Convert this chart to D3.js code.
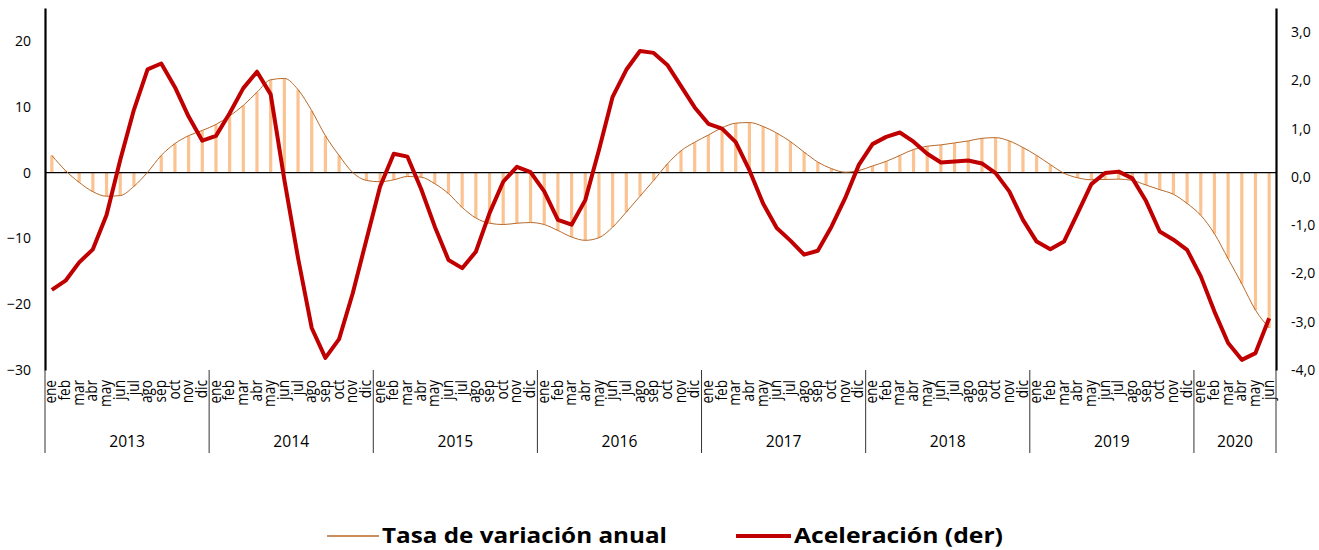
<!DOCTYPE html>
<html><head><meta charset="utf-8">
<script src="https://cdn.jsdelivr.net/npm/d3@7"></script>
<style>
html,body{margin:0;padding:0;background:#fff;}
svg text{font-family:"Open Sans",Lato,sans-serif;fill:#000;}
</style></head>
<body><svg id="c" width="1319" height="550"></svg>
<script>
const years = ["2013","2014","2015","2016","2017","2018","2019","2020"];
const monthNames = ["ene","feb","mar","abr","may","jun","jul","ago","sep","oct","nov","dic"];
const monthsPerYear = [12,12,12,12,12,12,12,6];

const tasa = [
  2.6, 0.3, -1.5, -2.9, -3.6, -3.5, -2.1, 0.05, 2.6, 4.4, 5.6, 6.4,
  7.3, 8.6, 10.2, 12.2, 14.1, 14.3, 12.6, 9.4, 5.6, 2.6, 0.0, -1.2,
  -1.4, -1.1, -0.6, -0.7, -1.7, -3.2, -5.3, -6.9, -7.7, -7.9, -7.7, -7.6,
  -7.9, -8.8, -9.8, -10.3, -9.9, -8.3, -6.0, -3.6, -1.2, 1.3, 3.3, 4.6,
  5.7, 6.8, 7.5, 7.6, 7.0, 6.0, 4.7, 3.1, 1.6, 0.6, 0.05, 0.3,
  1.0, 1.7, 2.6, 3.5, 4.0, 4.2, 4.5, 4.8, 5.2, 5.3, 4.8, 3.8,
  2.6, 1.2, -0.1, -0.8, -1.1, -1.05, -1.0, -1.2, -1.9, -2.6, -3.3, -4.7,
  -6.5, -9.3, -13.1, -16.9, -20.9, -23.6
];
const aceleracion = [
  -2.34, -2.15, -1.77, -1.50, -0.79, 0.35, 1.39, 2.23, 2.35, 1.86, 1.25, 0.75,
  0.85, 1.32, 1.84, 2.18, 1.71, -0.06, -1.68, -3.13, -3.75, -3.36, -2.41, -1.30,
  -0.20, 0.48, 0.42, -0.25, -1.03, -1.72, -1.89, -1.55, -0.75, -0.10, 0.21, 0.10,
  -0.30, -0.89, -0.99, -0.48, 0.56, 1.66, 2.22, 2.61, 2.57, 2.32, 1.88, 1.44,
  1.10, 1.00, 0.72, 0.14, -0.55, -1.06, -1.32, -1.61, -1.53, -1.03, -0.44, 0.25,
  0.68, 0.83, 0.92, 0.73, 0.48, 0.30, 0.32, 0.34, 0.28, 0.08, -0.30, -0.89,
  -1.34, -1.50, -1.34, -0.75, -0.15, 0.08, 0.11, -0.03, -0.50, -1.13, -1.30, -1.51,
  -2.06, -2.79, -3.44, -3.79, -3.65, -2.93
];
const leftTicks = [-30, -20, -10, 0, 10, 20];
const rightTicks = [-4, -3, -2, -1, 0, 1, 2, 3];

// build categories
const cats = [];
years.forEach((y, yi) => {
  for (let m = 0; m < monthsPerYear[yi]; m++) cats.push({key: y + "-" + m, year: y, month: monthNames[m]});
});
const data = cats.map((c, i) => ({...c, tasa: tasa[i], acel: aceleracion[i]}));

const svg = d3.select("#c");
const L = 45, R = 1276, T = 8, B = 370;
const x = d3.scaleBand().domain(cats.map(c => c.key)).range([L, R]).padding(0);
const xc = k => x(k) + x.bandwidth() / 2;
const yL = d3.scaleLinear().domain([-30, 25]).range([B, T]);
const yR = d3.scaleLinear().domain([-4, 3.5]).range([B, T]);

// bars
svg.append("g").selectAll("rect").data(data).join("rect")
  .attr("x", d => xc(d.key) - 1.6)
  .attr("width", 3.2)
  .attr("y", d => Math.min(yL(d.tasa), yL(0)))
  .attr("height", d => Math.abs(yL(d.tasa) - yL(0)))
  .attr("fill", "#FAC391");

// zero line
svg.append("line").attr("x1", L).attr("x2", R).attr("y1", yL(0)).attr("y2", yL(0))
  .attr("stroke", "#000").attr("stroke-width", 1.2);

// tasa line
svg.append("path").datum(data)
  .attr("d", d3.line().x(d => xc(d.key)).y(d => yL(d.tasa)).curve(d3.curveMonotoneX))
  .attr("fill", "none").attr("stroke", "#B8692A").attr("stroke-width", 1);

// aceleracion line
svg.append("path").datum(data)
  .attr("d", d3.line().x(d => xc(d.key)).y(d => yR(d.acel)))
  .attr("fill", "none").attr("stroke", "#C00000").attr("stroke-width", 4)
  .attr("stroke-linejoin", "round");

// left axis
const gL = svg.append("g").attr("transform", `translate(${L},0)`)
  .call(d3.axisLeft(yL).tickValues(leftTicks).tickSize(0).tickPadding(14).tickFormat(d3.format("d")));
gL.select(".domain").attr("stroke", "#000").attr("stroke-width", 2.2);
gL.selectAll("text").style("font-size", "14px").attr("font-family", null);

// right axis
const fmtR = v => d3.format(".1f")(v).replace(".", ",").replace("−", "-");
const gR = svg.append("g").attr("transform", `translate(${R},0)`)
  .call(d3.axisRight(yR).tickValues(rightTicks).tickSize(0).tickPadding(15).tickFormat(fmtR));
gR.select(".domain").attr("stroke", "#000").attr("stroke-width", 2.2);
gR.selectAll("text").style("font-size", "14px").attr("font-family", null);

// month labels (condensed, rotated)
svg.append("g").selectAll("text").data(data).join("text")
  .attr("transform", d => `translate(${xc(d.key) + 4.6},${B + 10}) rotate(-90) scale(0.8,1)`)
  .attr("text-anchor", "end")
  .style("font-size", "17px")
  .text(d => d.month);

// year separators and labels
let idx = 0;
const yearGroups = years.map((y, yi) => {
  const first = cats[idx].key, last = cats[idx + monthsPerYear[yi] - 1].key;
  idx += monthsPerYear[yi];
  return {year: y, x0: x(first), x1: x(last) + x.bandwidth()};
});
const sepX = [yearGroups[0].x0, ...yearGroups.map(g => g.x1)];
svg.append("g").selectAll("line").data(sepX).join("line")
  .attr("x1", d => d).attr("x2", d => d).attr("y1", B).attr("y2", 453)
  .attr("stroke", "#333").attr("stroke-width", 1);
svg.append("g").selectAll("text").data(yearGroups).join("text")
  .attr("transform", d => `translate(${(d.x0 + d.x1) / 2},447) scale(0.92,1)`)
  .attr("text-anchor", "middle").style("font-size", "17px")
  .text(d => d.year);

// legend
const lg = svg.append("g");
lg.append("line").attr("x1", 327).attr("x2", 379).attr("y1", 536).attr("y2", 536)
  .attr("stroke", "#B8692A").attr("stroke-width", 1.5);
lg.append("text").attr("x", 382).attr("y", 543).style("font-size", "21px").style("font-weight", "bold")
  .attr("textLength", 285).attr("lengthAdjust", "spacingAndGlyphs")
  .text("Tasa de variación anual");
lg.append("line").attr("x1", 736).attr("x2", 791).attr("y1", 536).attr("y2", 536)
  .attr("stroke", "#C00000").attr("stroke-width", 4);
lg.append("text").attr("x", 794).attr("y", 543).style("font-size", "21px").style("font-weight", "bold")
  .attr("textLength", 209).attr("lengthAdjust", "spacingAndGlyphs")
  .text("Aceleración (der)");
</script></body></html>
